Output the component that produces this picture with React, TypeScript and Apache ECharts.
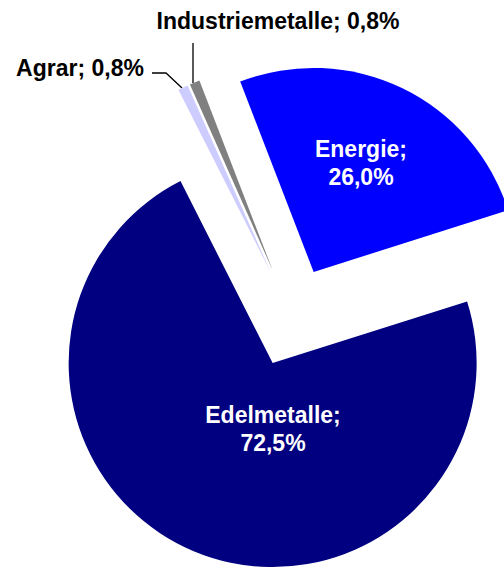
import React, { useEffect, useRef } from "react";
import * as echarts from "echarts";

const categories = ["Energie", "Edelmetalle", "Agrar", "Industriemetalle"];
const values = [26.0, 72.5, 0.8, 0.8];
const colors = ["#0000FF", "#000080", "#CCCCFF", "#808080"];

// layout only
const CENTER = [292, 317];
const RADIUS = 204;
const START_ANGLE = 111.1;
const EXPLODE = 50;
const labelPos: { x: number; y: number; line?: number[][] }[] = [
  { x: 361, y: 163 },
  { x: 273, y: 429 },
  { x: 80, y: 68, line: [[152, 73], [166, 73], [182, 88]] },
  { x: 278, y: 21, line: [[193, 43], [193, 63], [193, 83]] },
];

const fmt = (v: number) => v.toFixed(1).replace(".", ",") + "%";

export default function App() {
  const ref = useRef<HTMLDivElement>(null);
  useEffect(() => {
    if (!ref.current) return;
    const chart = echarts.init(ref.current, undefined, { renderer: "svg" });
    const font = '"Liberation Sans", Arial, Helvetica, sans-serif';
    const total = values.reduce((a, b) => a + b, 0);
    let cum = 0;
    const series = categories.map((_, i) => {
      const mid = ((START_ANGLE - ((cum + values[i] / 2) / total) * 360) * Math.PI) / 180;
      cum += values[i];
      const cx = CENTER[0] + Math.cos(mid) * EXPLODE;
      const cy = CENTER[1] - Math.sin(mid) * EXPLODE;
      const inside = i < 2;
      return {
        type: "pie",
        center: [cx, cy],
        radius: [0, RADIUS],
        startAngle: START_ANGLE,
        clockwise: true,
        avoidLabelOverlap: false,
        silent: true,
        emphasis: { disabled: true },
        itemStyle: { borderWidth: 0 },
        label: {
          formatter: (p: any) =>
            p.dataIndex < 2
              ? `${p.name};\n${fmt(p.value)}`
              : `${p.name}; ${fmt(p.value)}`,
        },
        labelLayout: (p: any) => {
          const lp = labelPos[p.dataIndex];
          const o: any = { x: lp.x, y: lp.y, align: "center", verticalAlign: "middle" };
          if (lp.line) o.labelLinePoints = lp.line;
          return o;
        },
        data: categories.map((name, j) => ({
          name,
          value: values[j],
          itemStyle: { color: j === i ? colors[j] : "rgba(0,0,0,0)" },
          label: {
            show: j === i,
            position: inside ? "inside" : "outside",
            color: inside ? "#FFFFFF" : "#000000",
            fontFamily: font,
            fontWeight: "bold",
            fontSize: 23,
            lineHeight: 28,
            align: "center",
          },
          labelLine: {
            show: j === i && !inside,
            length: 10,
            length2: 10,
            lineStyle: { color: "#000000", width: 1.3 },
          },
        })),
      };
    });
    chart.setOption({
      animation: false,
      backgroundColor: "#FFFFFF",
      series,
    });
    return () => chart.dispose();
  }, []);
  return (
    <div
      ref={ref}
      style={{ position: "fixed", left: 0, top: 0, width: 504, height: 569 }}
    />
  );
}
